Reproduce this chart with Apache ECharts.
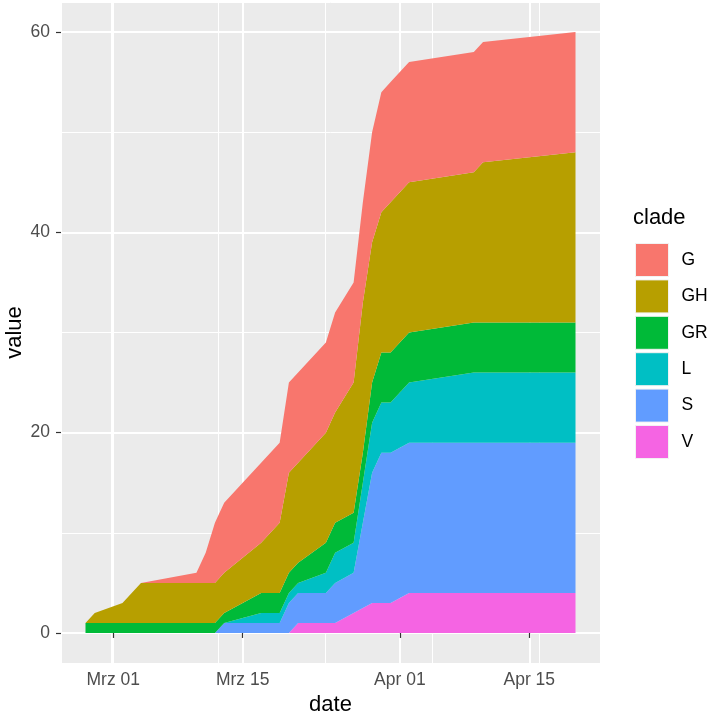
<!DOCTYPE html>
<html>
<head>
<meta charset="utf-8">
<script src="https://cdn.jsdelivr.net/npm/echarts@6/dist/echarts.min.js"></script>
<style>
    html, body { margin: 0; padding: 0; background: #ffffff; }
    #chart { width: 709px; height: 720px; }
</style>
</head>
<body>
<div id="chart"></div>
<script>
// dates with data (2020)
var dates = ['2020-02-27', '2020-02-28', '2020-03-02', '2020-03-04', '2020-03-10', '2020-03-11',
    '2020-03-12', '2020-03-13', '2020-03-17', '2020-03-19', '2020-03-20', '2020-03-21',
    '2020-03-24', '2020-03-25', '2020-03-27', '2020-03-28', '2020-03-29', '2020-03-30',
    '2020-03-31', '2020-04-02', '2020-04-09', '2020-04-10', '2020-04-20'];

// legend order (top of the stack first)
var clades = ['G', 'GH', 'GR', 'L', 'S', 'V'];
var cladeColors = ['#F8766D', '#B79F00', '#00BA38', '#00BFC4', '#619CFF', '#F564E3'];

// counts per clade, one per date
var G  = [0, 0, 0, 0, 1, 3, 6, 7, 8, 8, 9, 9, 9, 10, 10, 10, 11, 12, 12, 12, 12, 12, 12];
var GH = [0, 1, 2, 4, 4, 4, 4, 4, 5, 7, 10, 10, 11, 11, 13, 15, 14, 14, 15, 15, 15, 16, 17];
var GR = [1, 1, 1, 1, 1, 1, 1, 1, 2, 2, 2, 2, 3, 3, 3, 3, 4, 5, 5, 5, 5, 5, 5];
var L  = [0, 0, 0, 0, 0, 0, 0, 0, 1, 1, 1, 1, 2, 3, 3, 4, 5, 5, 5, 6, 7, 7, 7];
var S  = [0, 0, 0, 0, 0, 0, 0, 1, 1, 1, 3, 3, 3, 4, 4, 8.5, 13, 15, 15, 15, 15, 15, 15];
var V  = [0, 0, 0, 0, 0, 0, 0, 0, 0, 0, 0, 1, 1, 1, 2, 2.5, 3, 3, 3, 4, 4, 4, 4];

// axis breaks
var xTicks = ['2020-03-01', '2020-03-15', '2020-04-01', '2020-04-15'];
var xMinor = ['2020-03-08', '2020-03-23 12:00', '2020-04-08', '2020-04-22'];
var yTicks = [0, 20, 40, 60];
var yMinor = [10, 30, 50];
var monthNames = ['Jan', 'Feb', 'Mrz', 'Apr', 'Mai', 'Jun', 'Jul', 'Aug', 'Sep', 'Okt', 'Nov', 'Dez'];

window.onload = function () {
    var values = { G: G, GH: GH, GR: GR, L: L, S: S, V: V };
    var t = function (s) { return +echarts.time.parse(s); };

    var tFirst = t(dates[0]);
    var tLast = t(dates[dates.length - 1]);
    var pad = (tLast - tFirst) * 0.05;   // ggplot 5% expansion
    var xMin = tFirst - pad;
    var xMax = tLast + pad;

    // bottom of the stack first
    var series = [];
    for (var i = clades.length - 1; i >= 0; i--) {
        var name = clades[i];
        series.push({
            name: name,
            type: 'line',
            stack: 'total',
            xAxisIndex: 0,
            yAxisIndex: 0,
            symbol: 'none',
            lineStyle: { width: 0 },
            areaStyle: { color: cladeColors[i], opacity: 1 },
            itemStyle: { color: cladeColors[i] },
            emphasis: { disabled: true },
            data: dates.map(function (d, k) { return [d, values[name][k]]; })
        });
    }

    var hidden = {
        axisLine: { show: false },
        axisTick: { show: false },
        axisLabel: { show: false }
    };

    var option = {
        animation: false,
        textStyle: { fontFamily: 'Liberation Sans, Arial, sans-serif' },
        title: {
            text: 'clade',
            left: 633,
            top: 207,
            padding: 0,
            textStyle: { fontSize: 22, fontWeight: 'normal', color: '#000000' }
        },
        legend: {
            data: clades,
            orient: 'vertical',
            left: 635,
            top: 243,
            padding: 0,
            itemWidth: 33,
            itemHeight: 33,
            itemGap: 2.4,
            icon: 'rect',
            selectedMode: false,
            itemStyle: { borderColor: '#F2F2F2', borderWidth: 1 },
            textStyle: { fontSize: 17.5, color: '#000000', padding: [0, 0, 0, 8] }
        },
        grid: {
            left: 61,
            right: 109,
            top: 2,
            bottom: 57,
            show: true,
            backgroundColor: '#EBEBEB',
            borderWidth: 0,
            containLabel: false,
            outerBoundsMode: 'none'
        },
        xAxis: [{
            // axis the areas are drawn on
            type: 'time',
            min: xMin,
            max: xMax,
            position: 'bottom',
            axisLine: { show: false },
            axisTick: { show: false },
            axisLabel: { show: false },
            splitLine: { show: false }
        }, {
            // breaks, labels and major grid
            type: 'value',
            min: xMin,
            max: xMax,
            position: 'bottom',
            name: 'date',
            nameLocation: 'middle',
            nameGap: 30,
            nameTextStyle: { fontSize: 22, color: '#000000' },
            axisLine: { show: false },
            axisTick: {
                show: true,
                length: 5,
                customValues: xTicks.map(t),
                lineStyle: { color: '#333333', width: 1.2 }
            },
            axisLabel: {
                customValues: xTicks.map(t),
                fontSize: 17.5,
                color: '#4D4D4D',
                margin: 8,
                formatter: function (v) {
                    var d = new Date(v);
                    var day = d.getDate();
                    return monthNames[d.getMonth()] + ' ' + (day < 10 ? '0' + day : day);
                }
            },
            splitLine: {
                show: true,
                customValues: xTicks.map(t),
                lineStyle: { color: '#FFFFFF', width: 2 }
            }
        }, Object.assign({
            // minor grid
            type: 'value',
            min: xMin,
            max: xMax,
            position: 'bottom',
            splitLine: {
                show: true,
                customValues: xMinor.map(t),
                lineStyle: { color: '#FFFFFF', width: 1 }
            }
        }, hidden)],
        yAxis: [{
            type: 'value',
            min: -3,
            max: 63,
            name: 'value',
            nameLocation: 'middle',
            nameGap: 35,
            nameMoveOverlap: false,
            nameTextStyle: { fontSize: 22, color: '#000000' },
            axisLine: { show: false },
            axisTick: {
                show: true,
                length: 5,
                customValues: yTicks,
                lineStyle: { color: '#333333', width: 1.2 }
            },
            axisLabel: {
                customValues: yTicks,
                fontSize: 17.5,
                color: '#4D4D4D',
                margin: 11
            },
            splitLine: {
                show: true,
                customValues: yTicks,
                lineStyle: { color: '#FFFFFF', width: 2 }
            }
        }, Object.assign({
            type: 'value',
            min: -3,
            max: 63,
            position: 'left',
            splitLine: {
                show: true,
                customValues: yMinor,
                lineStyle: { color: '#FFFFFF', width: 1 }
            }
        }, hidden)],
        series: series
    };

    var chart = echarts.init(document.querySelector('#chart'));
    chart.setOption(option);
};
</script>
</body>
</html>
